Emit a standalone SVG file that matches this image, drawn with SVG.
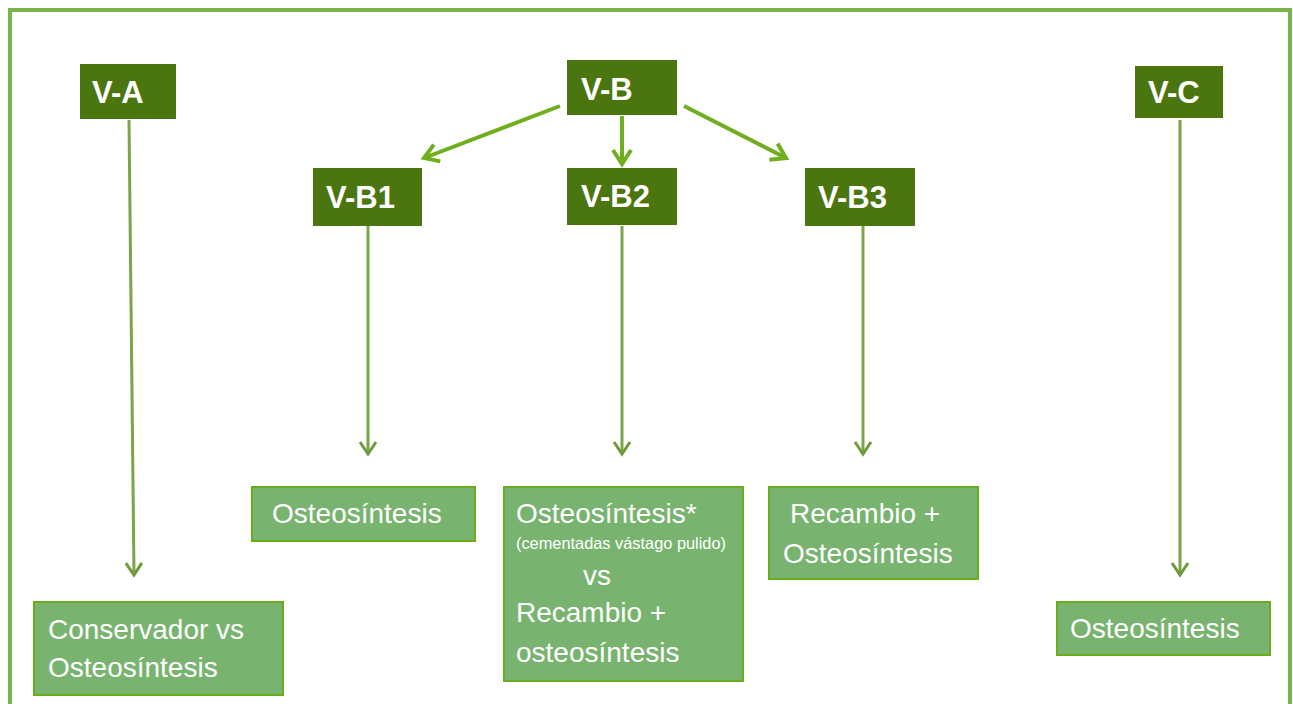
<svg xmlns="http://www.w3.org/2000/svg" width="1293" height="704" viewBox="0 0 1293 704">
<style>
.frame{fill:#ffffff;stroke:#78b44a;stroke-width:4}
.dark{fill:#4b750f}
.dark-t{font-family:"Liberation Sans",Arial,sans-serif;font-weight:bold;font-size:31px;fill:#ffffff}
.res{fill:#78b46f;stroke:#6aac1a;stroke-width:2}
.res-t{font-family:"Liberation Sans",Arial,sans-serif;font-size:28px;fill:#ffffff}
.small-t{font-family:"Liberation Sans",Arial,sans-serif;font-size:16.5px;fill:#ffffff}
.thin{fill:none;stroke:#7aa548;stroke-width:3;marker-end:url(#thinHead)}
.thick{fill:none;stroke:#6fae1c;stroke-width:4;marker-end:url(#thickHead)}
</style>
<defs>
<marker id="thinHead" markerUnits="userSpaceOnUse" viewBox="-20 -20 40 40" markerWidth="40" markerHeight="40" refX="0" refY="0" orient="auto" overflow="visible">
<path d="M-12,-8 L0,0 L-12,8" fill="none" stroke="#6f9a3e" stroke-width="3"/>
</marker>
<marker id="thickHead" markerUnits="userSpaceOnUse" viewBox="-20 -20 40 40" markerWidth="40" markerHeight="40" refX="0" refY="0" orient="auto" overflow="visible">
<path d="M-14,-9 L0,0 L-14,9" fill="none" stroke="#6fae1c" stroke-width="4"/>
</marker>
</defs>
<rect class="frame" x="10" y="10" width="1280" height="720"/>
<g id="connectors">
<line class="thin" x1="129" y1="120" x2="134" y2="575"/>
<line class="thin" x1="368" y1="226" x2="368" y2="454"/>
<line class="thin" x1="622" y1="226" x2="622" y2="454"/>
<line class="thin" x1="863" y1="226" x2="863" y2="454"/>
<line class="thin" x1="1180" y1="120" x2="1180" y2="575"/>
<line class="thick" x1="560" y1="106" x2="424" y2="158"/>
<line class="thick" x1="622" y1="116" x2="622" y2="164"/>
<line class="thick" x1="684" y1="106" x2="786" y2="158"/>
</g>
<g id="VA"><rect class="dark" x="80" y="64" width="96" height="55"/><text class="dark-t" x="92" y="103">V-A</text></g>
<g id="VB"><rect class="dark" x="567" y="60" width="110" height="55"/><text class="dark-t" x="581" y="100">V-B</text></g>
<g id="VC"><rect class="dark" x="1135" y="66" width="88" height="52"/><text class="dark-t" x="1148" y="103">V-C</text></g>
<g id="VB1"><rect class="dark" x="313" y="168" width="109" height="58"/><text class="dark-t" x="326" y="208">V-B1</text></g>
<g id="VB2"><rect class="dark" x="567" y="168" width="110" height="57"/><text class="dark-t" x="581" y="207">V-B2</text></g>
<g id="VB3"><rect class="dark" x="805" y="168" width="110" height="58"/><text class="dark-t" x="818" y="208">V-B3</text></g>
<g id="RB1"><rect class="res" x="252" y="487" width="223" height="54"/><text class="res-t" x="272" y="523">Osteosíntesis</text></g>
<g id="RB2"><rect class="res" x="504" y="487" width="239" height="194"/>
<text class="res-t" x="516" y="523">Osteosíntesis*</text>
<text class="small-t" x="516" y="549" textLength="210" lengthAdjust="spacingAndGlyphs">(cementadas vástago pulido)</text>
<text class="res-t" x="583" y="585">vs</text>
<text class="res-t" x="516" y="622">Recambio +</text>
<text class="res-t" x="516" y="662">osteosíntesis</text>
</g>
<g id="RB3"><rect class="res" x="769" y="487" width="209" height="92"/>
<text class="res-t" x="790" y="523">Recambio +</text>
<text class="res-t" x="783" y="563">Osteosíntesis</text>
</g>
<g id="RA"><rect class="res" x="34" y="602" width="249" height="93"/>
<text class="res-t" x="48" y="639">Conservador vs</text>
<text class="res-t" x="48" y="677">Osteosíntesis</text>
</g>
<g id="RC"><rect class="res" x="1057" y="602" width="213" height="53"/><text class="res-t" x="1070" y="638">Osteosíntesis</text></g>
</svg>
